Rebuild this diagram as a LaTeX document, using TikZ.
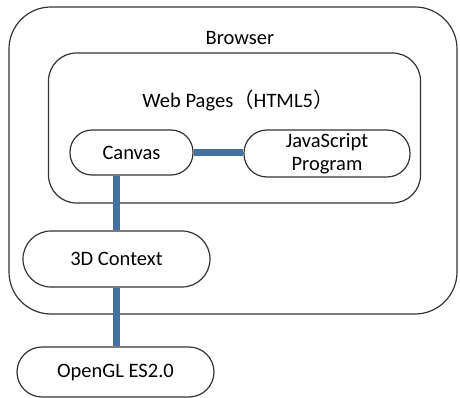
\documentclass[tikz,border=0pt]{standalone}
\usepackage{fontspec}
\setmainfont{Carlito}
\newfontfamily\cjk{Noto Sans CJK SC}
\definecolor{linkblue}{RGB}{68,114,160}
\tikzset{
  frame/.style={draw=black!80, line width=1.2pt},
  pill/.style={frame, fill=white, rectangle, inner sep=0pt, align=center},
  link/.style={draw=linkblue, line width=7.8pt},
  lbl/.style={inner sep=0pt, font=\fontsize{20.5}{23}\selectfont}
}
\begin{document}
\begin{tikzpicture}[x=1pt, y=-1pt, font=\fontsize{20.5}{23}\selectfont]
\useasboundingbox (0,0) rectangle (460,398);
% containers
\node[frame, rounded corners=42pt, minimum width=448pt, minimum height=307pt] (browser) at (233,160.5) {};
\node[frame, rounded corners=28pt, minimum width=372pt, minimum height=150pt] (web) at (234.5,128) {};
\node[lbl] (browserlbl) at (240,38) {Browser};
\node[lbl] (weblbl) at (238,100) {Web Pages{\cjk （}HTML5{\cjk ）}};
% components
\node[pill, rounded corners=22pt, minimum width=123pt, minimum height=45pt] (canvas) at (131.5,152.5) {Canvas};
\node[pill, rounded corners=23pt, minimum width=166pt, minimum height=47pt] (js) at (327,153.5) {JavaScript\\Program};
\node[pill, rounded corners=28pt, minimum width=187pt, minimum height=56pt] (ctx) at (116.5,259) {3D Context};
\node[pill, rounded corners=25pt, minimum width=197pt, minimum height=50pt] (gl) at (115.5,372) {OpenGL ES2.0};
% connections
\draw[link] (canvas.east) -- (canvas.east -| js.west);
\draw[link] (ctx.north) -- (ctx.north |- canvas.south);
\draw[link] (ctx.south) -- (ctx.south |- gl.north);
\end{tikzpicture}
\end{document}
